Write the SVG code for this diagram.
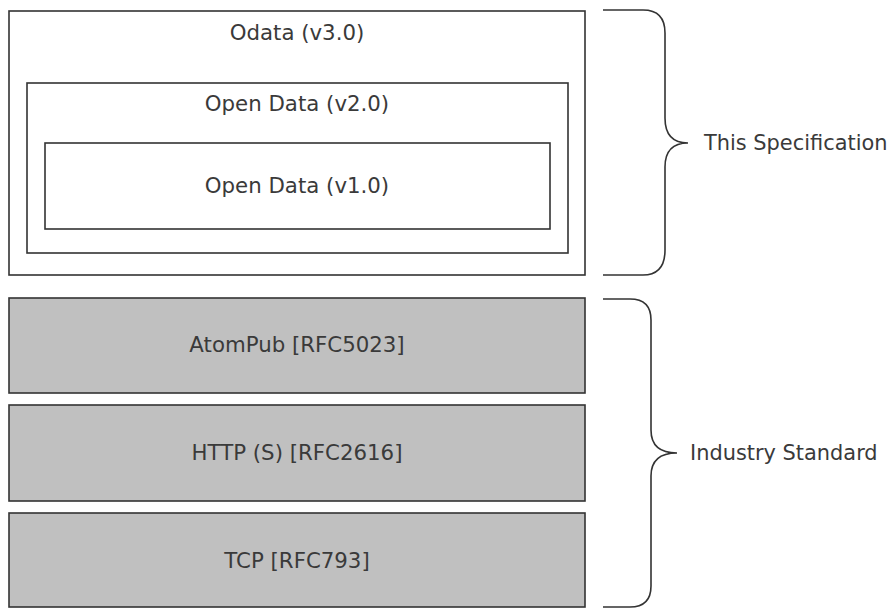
<svg xmlns="http://www.w3.org/2000/svg" width="892" height="608" viewBox="0 0 892 608">
<style>
.box{fill:#ffffff;stroke:#333333;stroke-width:1.6}
.std{fill:#c0c0c0;stroke:#333333;stroke-width:1.6}
.lbl{font-family:"DejaVu Sans",Verdana,sans-serif;font-size:21.3px;fill:#3a3a3a;text-anchor:middle}
.side{font-family:"DejaVu Sans",Verdana,sans-serif;font-size:20.9px;fill:#3a3a3a;text-anchor:start}
.brace{fill:none;stroke:#333333;stroke-width:1.6}
</style>
<rect width="892" height="608" fill="#ffffff"/>
<g id="odata-v3">
<rect class="box" x="9" y="11" width="576" height="264"/>
<text class="lbl" x="297" y="40">Odata (v3.0)</text>
</g>
<g id="open-data-v2">
<rect class="box" x="27" y="83" width="541" height="170"/>
<text class="lbl" x="297" y="111">Open Data (v2.0)</text>
</g>
<g id="open-data-v1">
<rect class="box" x="45" y="143" width="505" height="86"/>
<text class="lbl" x="297" y="193">Open Data (v1.0)</text>
</g>
<g id="atompub">
<rect class="std" x="9" y="298" width="576" height="95"/>
<text class="lbl" x="297" y="352">AtomPub [RFC5023]</text>
</g>
<g id="http">
<rect class="std" x="9" y="405" width="576" height="96"/>
<text class="lbl" x="297" y="460">HTTP (S) [RFC2616]</text>
</g>
<g id="tcp">
<rect class="std" x="9" y="513" width="576" height="94"/>
<text class="lbl" x="297" y="568">TCP [RFC793]</text>
</g>
<g id="connectors">
<path class="brace" d="M603,10 H643 Q665,10 665,33 V118 Q665,143 688,143 Q665,143 665,167 V250 Q665,275 643,275 H603"/>
<path class="brace" d="M603,299 H630 Q651,299 651,320 V430 Q651,453 677,453 Q651,453 651,476 V586 Q651,607 630,607 H603"/>
</g>
<g id="this-specification">
<text class="side" x="704" y="150">This Specification</text>
</g>
<g id="industry-standard">
<text class="side" x="690" y="460">Industry Standard</text>
</g>
</svg>
